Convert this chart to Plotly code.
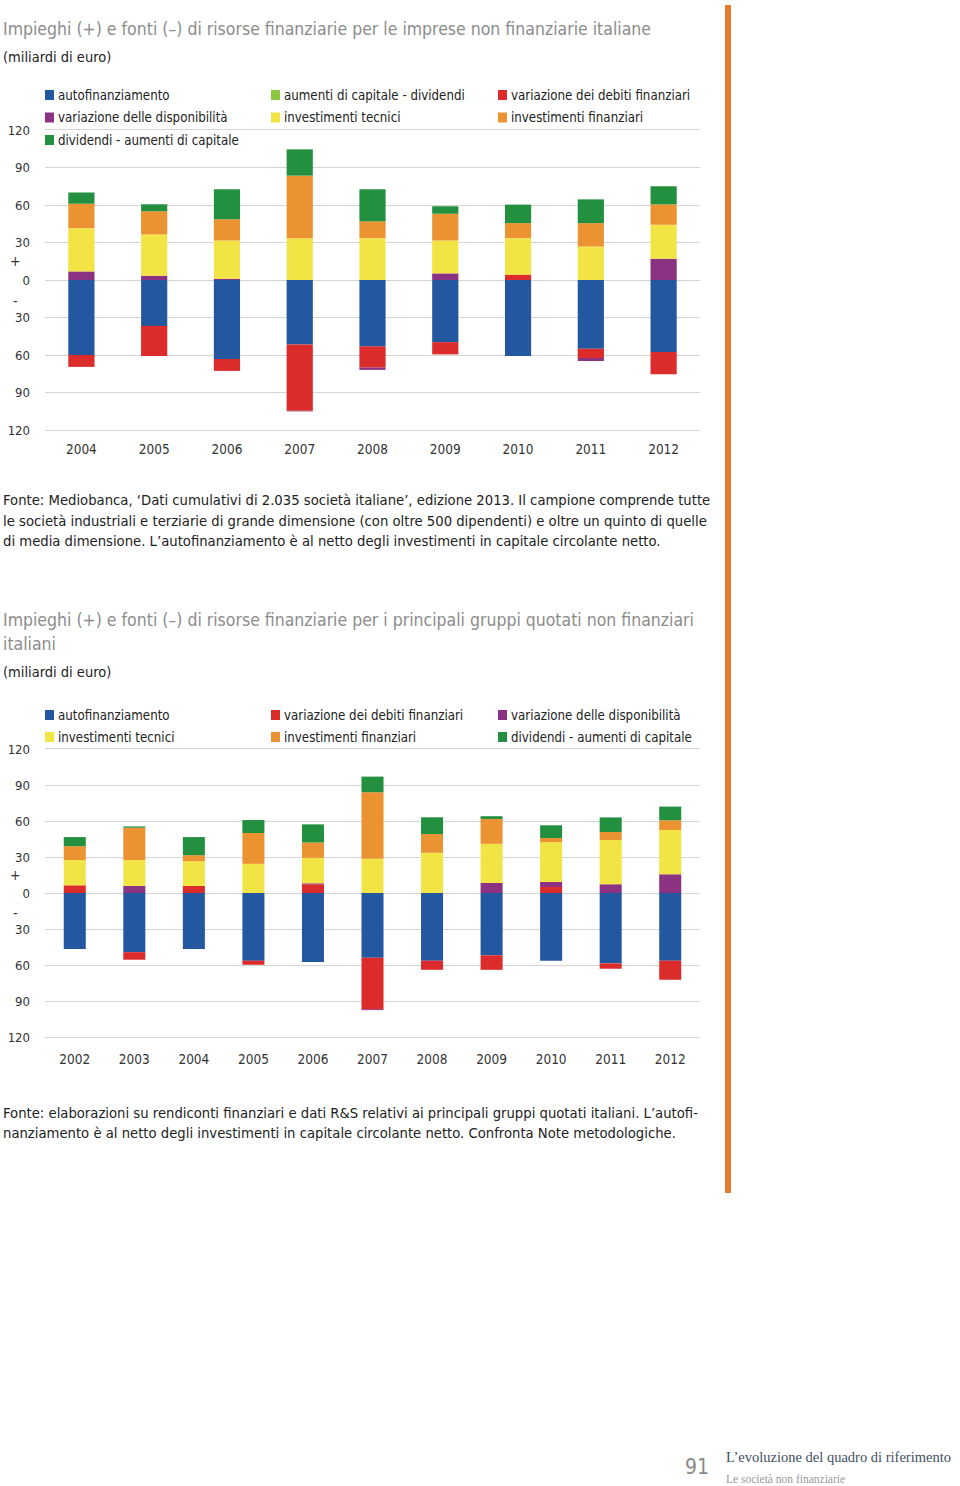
import plotly.graph_objects as go

# ---------------- data ----------------
years1 = ["2004", "2005", "2006", "2007", "2008", "2009", "2010", "2011", "2012"]
autofin1 = [-60.0, -36.7, -63.2, -51.5, -53.1, -49.7, -60.8, -55.0, -57.6]
aumenti1 = [0, 0, 0, 0, 0, 0, 0, 0, 0]
debiti1 = [-9.5, -24.1, -9.5, -53.1, -17.0, -9.8, 4.3, -7.4, -17.8]
dispon1 = [6.9, 3.5, 1.1, -0.5, -1.8, 5.3, 0.0, -2.4, 17.0]
tecnici1 = [34.6, 32.9, 30.5, 33.5, 33.5, 26.3, 29.2, 26.8, 27.2]
finanz1 = [19.5, 18.6, 17.0, 50.0, 13.4, 21.4, 12.0, 18.7, 16.3]
divid1 = [9.0, 5.6, 24.0, 21.0, 25.7, 6.0, 14.8, 19.0, 14.5]

years2 = ["2002", "2003", "2004", "2005", "2006", "2007", "2008", "2009", "2010", "2011", "2012"]
autofin2 = [-46.6, -49.3, -46.6, -56.4, -57.5, -53.9, -56.4, -51.9, -56.4, -58.6, -56.4]
debiti2 = [6.4, -6.3, 5.9, -3.4, 7.3, -42.9, -7.6, -12.1, 5.0, -4.5, -15.9]
dispon2 = [0.0, 5.9, 0.0, 0.0, 0.8, -0.8, 0.0, 8.4, 4.2, 7.3, 15.6]
tecnici2 = [21.0, 21.5, 20.6, 24.3, 21.2, 28.5, 33.5, 32.6, 33.2, 36.8, 36.9]
finanz2 = [11.6, 27.0, 5.0, 25.7, 12.8, 55.5, 15.6, 20.7, 3.4, 6.7, 8.1]
divid2 = [7.6, 1.1, 15.1, 10.8, 15.1, 13.0, 14.0, 2.3, 10.6, 12.2, 11.4]

ytickvals = [-120, -90, -60, -30, 0, 30, 60, 90, 120]
yticktext = ["120", "90", "60", "30", "0", "30", "60", "90", "120"]

names = {
    "autofin": "autofinanziamento",
    "aumenti": "aumenti di capitale - dividendi",
    "debiti": "variazione dei debiti finanziari",
    "dispon": "variazione delle disponibilità",
    "tecnici": "investimenti tecnici",
    "finanz": "investimenti finanziari",
    "divid": "dividendi - aumenti di capitale",
}
colors = {
    "autofin": "#2358A0",
    "aumenti": "#8DC63F",
    "debiti": "#DC2B2B",
    "dispon": "#8B3283",
    "tecnici": "#F2E445",
    "finanz": "#EB9231",
    "divid": "#23903F",
}

FONT = "DejaVu Sans Condensed, Liberation Sans Narrow, Arial Narrow, sans-serif"
SERIF = "Liberation Serif, DejaVu Serif, serif"

# coordinates below are page pixels (the page body margin is removed)
W, H = 960, 1486
RM = 240
PW = W - RM  # paper width in px


def px(x):
    return x / PW


def py(y):
    return 1 - y / H


fig = go.Figure()

series1 = [("autofin", autofin1), ("aumenti", aumenti1), ("debiti", debiti1),
           ("dispon", dispon1), ("tecnici", tecnici1), ("finanz", finanz1), ("divid", divid1)]
for key, vals in series1:
    fig.add_trace(go.Bar(x=years1, y=vals, name=names[key], marker_color=colors[key],
                         marker_line_width=0, width=0.36, xaxis="x", yaxis="y",
                         showlegend=False))

series2 = [("autofin", autofin2), ("debiti", debiti2), ("dispon", dispon2),
           ("tecnici", tecnici2), ("finanz", finanz2), ("divid", divid2)]
for key, vals in series2:
    fig.add_trace(go.Bar(x=years2, y=vals, name=names[key], marker_color=colors[key],
                         marker_line_width=0, width=0.37, xaxis="x2", yaxis="y2",
                         showlegend=False))

GRID = "#d4d4d4"
yax = dict(range=[-120, 120], tickvals=ytickvals, ticktext=yticktext, showgrid=True,
           gridcolor=GRID, gridwidth=1, zeroline=True, zerolinecolor=GRID,
           zerolinewidth=1, showline=False, ticks="", ticklabelstandoff=14,
           tickfont=dict(family=FONT, size=13, color="#333333"), fixedrange=True)
xax = dict(showgrid=False, zeroline=False, showline=True, mirror=True, linecolor=GRID,
           linewidth=1, ticks="",
           tickfont=dict(family=FONT, size=13.5, color="#333333"), fixedrange=True,
           domain=[px(45), px(700)], type="category")

fig.update_layout(
    width=W, height=H,
    margin=dict(l=0, r=RM, t=0, b=0, autoexpand=False),
    paper_bgcolor="white", plot_bgcolor="white",
    barmode="relative",
    showlegend=False,
    font=dict(family=FONT, color="#333333"),
    xaxis=dict(xax, anchor="y", ticklabelstandoff=7),
    yaxis=dict(yax, anchor="x", domain=[py(430), py(130)]),
    xaxis2=dict(xax, anchor="y2", ticklabelstandoff=10),
    yaxis2=dict(yax, anchor="x2", domain=[py(1037), py(749)]),
)

annots = []
shapes = []


def text(x, y, s, size, color="#222222", family=FONT, yref="paper", anchor="left"):
    annots.append(dict(x=x, y=y, xref="paper", yref=yref, text=s, showarrow=False,
                       xanchor=anchor, yanchor="middle",
                       font=dict(family=family, size=size, color=color)))


def legend_item(col, row_y, key):
    x0 = [45, 271, 498][col]
    shapes.append(dict(type="rect", xref="paper", yref="paper", x0=px(x0), x1=px(x0 + 9),
                       y0=py(row_y + 5), y1=py(row_y - 5), fillcolor=colors[key],
                       line_width=0))
    text(px(x0 + 11), py(row_y), names[key], 13.2, "#222222")


# legends (row-wise, same order as the series)
rows1 = [95, 117.5, 140]
for i, (key, _) in enumerate(series1):
    legend_item(i % 3, rows1[i // 3], key)

rows2 = [715, 737]
for i, (key, _) in enumerate(series2):
    legend_item(i % 3, rows2[i // 3], key)

title_col = "#8c8c8c"
text(px(1), py(29), "Impieghi (+) e fonti (–) di risorse finanziarie per le imprese non finanziarie italiane", 17.5, title_col)
text(px(1), py(57), "(miliardi di euro)", 14.5)
text(px(15), 15, "+", 14, "#333333", yref="y", anchor="center")
text(px(15), -17, "-", 14, "#333333", yref="y", anchor="center")

foot1 = [
    "Fonte: Mediobanca, ‘Dati cumulativi di 2.035 società italiane’, edizione 2013. Il campione comprende tutte",
    "le società industriali e terziarie di grande dimensione (con oltre 500 dipendenti) e oltre un quinto di quelle",
    "di media dimensione. L’autofinanziamento è al netto degli investimenti in capitale circolante netto.",
]
for i, line in enumerate(foot1):
    text(px(1), py(500 + 20 * i), line, 14.7)

text(px(1), py(620), "Impieghi (+) e fonti (–) di risorse finanziarie per i principali gruppi quotati non finanziari", 17.5, title_col)
text(px(1), py(644), "italiani", 17.5, title_col)
text(px(1), py(672), "(miliardi di euro)", 14.5)
text(px(15), 15, "+", 14, "#333333", yref="y2", anchor="center")
text(px(15), -17, "-", 14, "#333333", yref="y2", anchor="center")

foot2 = [
    "Fonte: elaborazioni su rendiconti finanziari e dati R&amp;S relativi ai principali gruppi quotati italiani. L’autofi-",
    "nanziamento è al netto degli investimenti in capitale circolante netto. Confronta Note metodologiche.",
]
for i, line in enumerate(foot2):
    text(px(1), py(1112 + 20 * i), line, 14.7)

text(px(697), py(1467), "91", 21, "#8a8a8a", anchor="center", family=FONT)
text(px(724), py(1457), "L’evoluzione del quadro di riferimento", 14.5, "#3e4f5f", family=SERIF)
text(px(724), py(1479), "Le società non finanziarie", 11.5, "#9a9a9a", family=SERIF)

shapes.append(dict(type="rect", xref="paper", yref="paper", x0=px(725), x1=px(731),
                   y0=py(1193), y1=py(5), fillcolor="#E47B2C", line_width=0, layer="above"))

fig.update_layout(annotations=annots, shapes=shapes)

fig.write_html("out.html",
               config={"displayModeBar": False, "staticPlot": True},
               post_script="document.body.style.margin='0';document.body.style.padding='0';")
